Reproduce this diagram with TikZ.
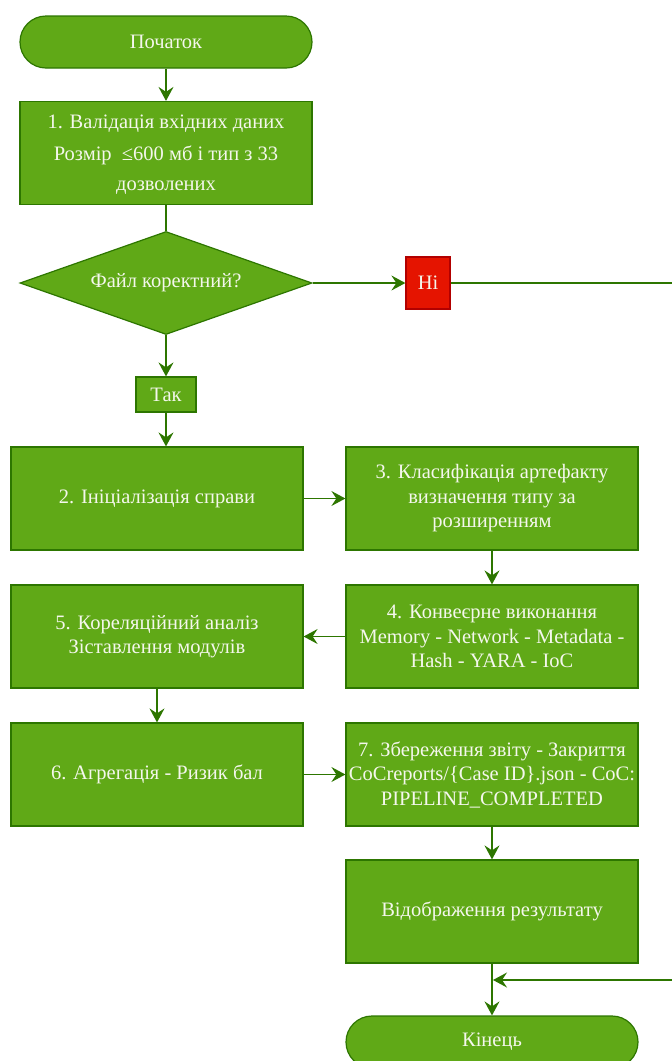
\documentclass[tikz,border=0pt]{standalone}
\usepackage{fontspec}
\setmainfont{Liberation Serif}
\usetikzlibrary{shapes.geometric,arrows.meta}
\definecolor{gfill}{HTML}{60A917}
\definecolor{gdraw}{HTML}{2D7600}
\definecolor{rfill}{HTML}{E51400}
\definecolor{rdraw}{HTML}{B20000}
\definecolor{tcol}{HTML}{F4F7EC}
\begin{document}
\begin{tikzpicture}[x=1pt,y=-1pt,
  base/.style={draw=gdraw, fill=gfill, line width=1.2pt, text=tcol, font=\fontsize{20.5}{24.5}\selectfont, align=center, inner sep=0pt},
  proc/.style={base, rectangle, minimum width=292pt, minimum height=103pt},
  term/.style={base, rectangle, rounded corners=26pt, minimum width=292pt, minimum height=52pt},
  small/.style={base, rectangle, minimum width=60pt, minimum height=35pt},
  redbox/.style={base, draw=rdraw, fill=rfill, minimum width=44pt, minimum height=52pt},
  lbl/.style={text=tcol, font=\fontsize{20.5}{24.5}\selectfont, align=center},
  conn/.style={draw=gdraw, line width=1.6pt, -{Stealth[length=14pt,width=15pt,inset=5pt]}},
  plain/.style={draw=gdraw, line width=1.6pt}]
\useasboundingbox (0,0) rectangle (672,1061);
\clip (0,0) rectangle (672,1061);
\node[term] (start) at (166,42) {Початок};
\node[proc, label={[lbl, yshift=-2pt]center:{1. Валідація вхідних даних\\[7pt] Розмір \ ≤600 мб і тип з 33\\[6pt] дозволених}}] (b1) at (166,153) {};
\node[base, diamond, minimum width=292pt, minimum height=103pt, label={[lbl]center:Файл коректний?}] (dia) at (166,283) {};
\node[redbox] (ni) at (428,283) {Ні};
\node[small] (tak) at (166,394.5) {Так};
\node[proc] (b2) at (157,498.5) {2. Ініціалізація справи};
\node[proc] (b3) at (492,498.5) {3. Класифікація артефакту\\ визначення типу за\\ розширенням};
\node[proc] (b4) at (492,636.5) {4. Конвеєрне виконання\\ Memory - Network - Metadata -\\ Hash - YARA - IoC};
\node[proc] (b5) at (157,636.5) {5. Кореляційний аналіз\\ Зіставлення модулів};
\node[proc] (b6) at (157,774.5) {6. Агрегація - Ризик бал};
\node[proc] (b7) at (492,774.5) {7. Збереження звіту - Закриття\\ CoCreports/\{Case ID\}.json - CoC:\\ PIPELINE\_COMPLETED};
\node[proc] (res) at (492,911.5) {Відображення результату};
\node[term] (end) at (492,1042) {Кінець};
\coordinate (c1) at (690,283);
\coordinate (c2) at (690,980);
\coordinate (c3) at (493,980);
\draw[conn] (start) -- (b1);
\draw[plain] (b1.south -| dia.north) -- (dia.north);
\draw[conn] (dia.east) -- (ni);
\draw[conn] (dia.south) -- (tak);
\draw[conn] (tak) -- (tak |- b2.north);
\draw[conn] (b2) -- (b3);
\draw[conn] (b3) -- (b4);
\draw[conn] (b4) -- (b5);
\draw[conn] (b5) -- (b6);
\draw[conn] (b6) -- (b7);
\draw[conn] (b7) -- (res);
\draw[conn] (res) -- (end);
\draw[conn] (ni) -- (c1) -- (c2) -- (c3);
\end{tikzpicture}
\end{document}
